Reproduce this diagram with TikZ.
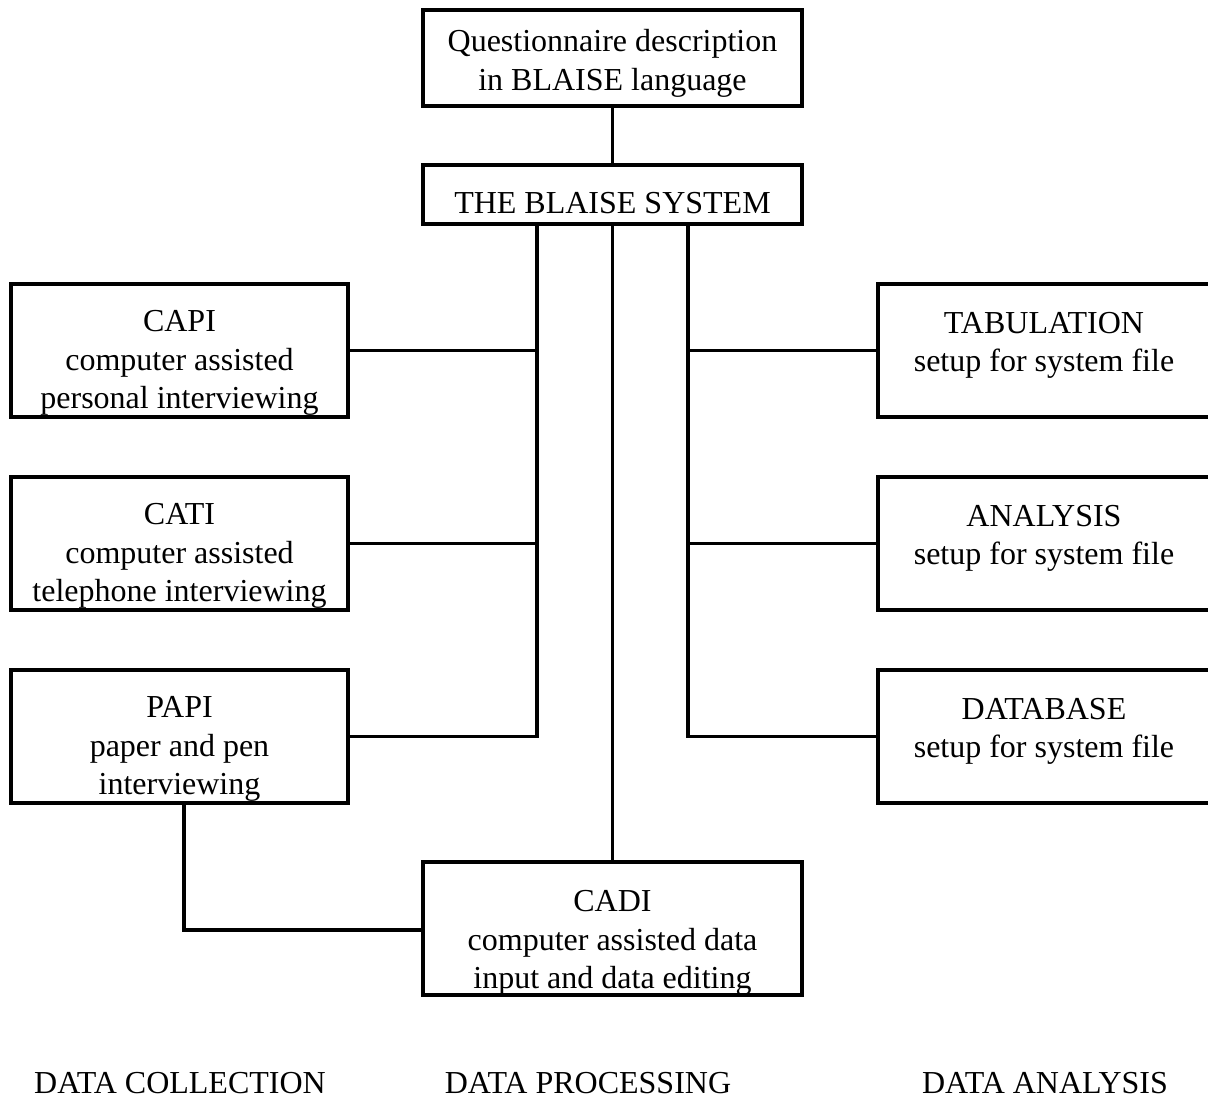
\documentclass[tikz,border=0pt]{standalone}
\usepackage{fontspec}
\setmainfont{Liberation Serif}
\begin{document}
\begin{tikzpicture}[x=1pt,y=-1pt,
  box/.style={draw=black,line width=3.2pt,rectangle,inner sep=0pt},
  txt/.style={align=center,inner sep=0pt,font=\fontsize{32}{38.5}\selectfont},
  wire/.style={draw=black,line width=3.2pt}]
\useasboundingbox (0,0) rectangle (1208,1106);
% boxes
\node[box,minimum width=379pt,minimum height=96pt] (q) at (612.5,58) {};
\node[box,minimum width=379pt,minimum height=59pt] (bs) at (612.5,194.5) {};
\node[box,minimum width=337pt,minimum height=133pt] (capi) at (179.5,350.5) {};
\node[box,minimum width=337pt,minimum height=133pt] (cati) at (179.5,543.5) {};
\node[box,minimum width=337pt,minimum height=133pt] (papi) at (179.5,736.5) {};
\node[box,minimum width=336pt,minimum height=133pt] (tab) at (1046,350.5) {};
\node[box,minimum width=336pt,minimum height=133pt] (ana) at (1046,543.5) {};
\node[box,minimum width=336pt,minimum height=133pt] (db) at (1046,736.5) {};
\node[box,minimum width=379pt,minimum height=133pt] (cadi) at (612.5,928.5) {};
% texts
\node[txt,anchor=north] (tq) at ([yshift=-21pt]q.north) {Questionnaire description\\in BLAISE language};
\node[txt,anchor=north] (tbs) at ([yshift=-29pt]bs.north) {THE BLAISE SYSTEM};
\node[txt,anchor=north] (tcapi) at ([yshift=-28pt]capi.north) {CAPI\\computer assisted\\personal interviewing};
\node[txt,anchor=north] (tcati) at ([yshift=-28pt]cati.north) {CATI\\computer assisted\\telephone interviewing};
\node[txt,anchor=north] (tpapi) at ([yshift=-28pt]papi.north) {PAPI\\paper and pen\\interviewing};
\node[txt,anchor=north] (ttab) at (1044,312) {TABULATION\\setup for system file};
\node[txt,anchor=north] (tana) at (1044,505) {ANALYSIS\\setup for system file};
\node[txt,anchor=north] (tdb) at (1044,698) {DATABASE\\setup for system file};
\node[txt,anchor=north] (tcadi) at ([yshift=-30pt]cadi.north) {CADI\\computer assisted data\\input and data editing};
\node[txt,anchor=base] (lcol) at (180,1093) {DATA COLLECTION};
\node[txt,anchor=base] (lpro) at (588,1093) {DATA PROCESSING};
\node[txt,anchor=base] (lana) at (1045,1093) {DATA ANALYSIS};
% junction coordinates
\coordinate (jl1) at (537,350.5);
\coordinate (jl2) at (537,543.5);
\coordinate (jl3) at (537,736.5);
\coordinate (jr1) at (688,350.5);
\coordinate (jr2) at (688,543.5);
\coordinate (jr3) at (688,736.5);
\coordinate (pc) at (184,930);
% connectors
\draw[wire] (q.south) -- (bs.north);
\draw[wire] (bs.south -| jl1) -- (jl3) -- (papi.east |- jl3);
\draw[wire] (capi.east) -- (jl1);
\draw[wire] (cati.east) -- (jl2);
\draw[wire] (bs.south -| jr1) -- (jr3) -- (db.west |- jr3);
\draw[wire] (tab.west) -- (jr1);
\draw[wire] (ana.west) -- (jr2);
\draw[wire] (bs.south) -- (cadi.north);
\draw[wire] (papi.south -| pc) -- (pc) -- (cadi.west |- pc);
\end{tikzpicture}
\end{document}
